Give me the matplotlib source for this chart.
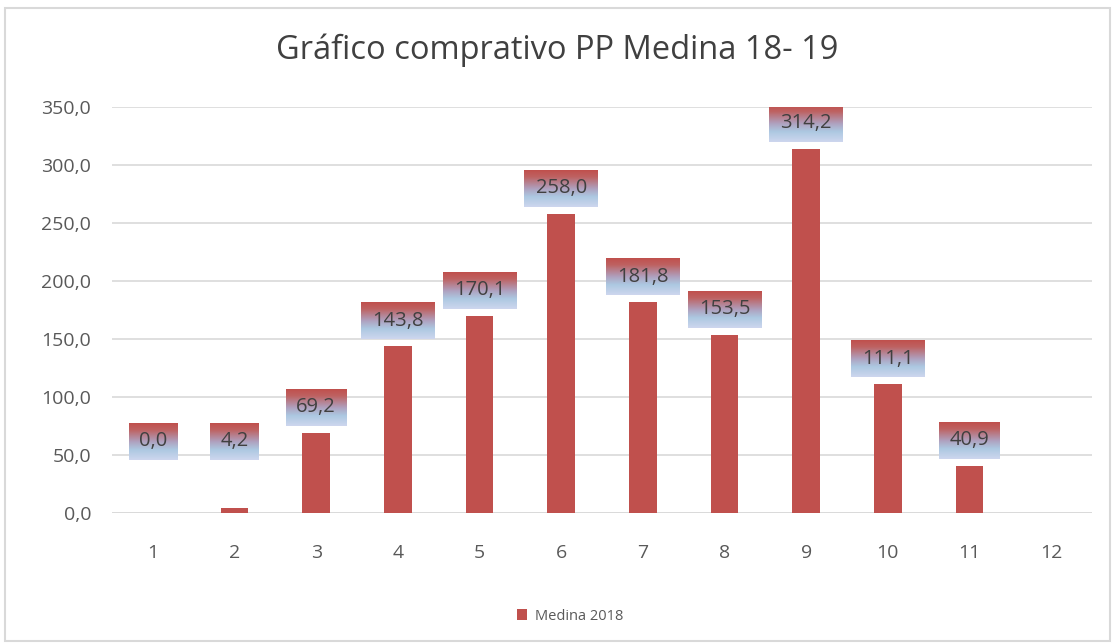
import matplotlib.pyplot as plt
import numpy as np
from matplotlib.patches import Rectangle
from matplotlib.colors import LinearSegmentedColormap

meses = [1, 2, 3, 4, 5, 6, 7, 8, 9, 10, 11, 12]
medina_2018 = [0.0, 4.2, 69.2, 143.8, 170.1, 258.0, 181.8, 153.5, 314.2, 111.1, 40.9, None]
yticks = [0, 50, 100, 150, 200, 250, 300, 350]

plt.rcParams['font.family'] = ['Open Sans', 'DejaVu Sans']

fig = plt.figure(figsize=(11.15, 6.44), dpi=100)
ax = fig.add_axes([112 / 1115, 1 - 513 / 644, (1092 - 112) / 1115, (513 - 107) / 644])

# borde del gráfico
fig.patches.append(Rectangle((5 / 1115, 3 / 644), 1105 / 1115, 633 / 644,
                             transform=fig.transFigure, fill=False,
                             edgecolor='#D9D9D9', lw=1.5))

x = [m for m, v in zip(meses, medina_2018) if v is not None]
y = [v for v in medina_2018 if v is not None]

ax.bar(x, y, width=0.34, color='#C0504D', zorder=3, label='Medina 2018')

ax.set_xlim(0.5, 12.5)
ax.set_ylim(0, 350)
ax.set_xticks(meses)
ax.set_yticks(yticks)
ax.set_yticklabels([f'{t:.1f}'.replace('.', ',') for t in yticks])
ax.tick_params(length=0, labelsize=14, labelcolor='#595959')
ax.tick_params(axis='y', pad=15)
ax.tick_params(axis='x', pad=22)
ax.yaxis.grid(True, color='#D9D9D9', lw=1.2, zorder=0)
for s in ax.spines.values():
    s.set_visible(False)
ax.axhline(0, color='#D9D9D9', lw=1.2, zorder=1)

# etiquetas con degradado
grad = LinearSegmentedColormap.from_list('g', [
    (0.0, (192 / 255, 80 / 255, 77 / 255)),
    (0.18, (190 / 255, 98 / 255, 98 / 255)),
    (0.5, (175 / 255, 160 / 255, 190 / 255)),
    (0.72, (172 / 255, 200 / 255, 225 / 255)),
    (1.0, (205 / 255, 214 / 255, 238 / 255)),
])
img = np.linspace(0, 1, 64).reshape(-1, 1)
px_x = 1 / 81.7
px_y = 350 / 406
for xi, v in zip(x, y):
    txt = f'{v:.1f}'.replace('.', ',')
    w = (12.5 * len(txt) + 11) * px_x
    h = 37 * px_y
    base = max(v, 40) + 7 * px_y
    ax.imshow(img, cmap=grad, aspect='auto', origin='upper',
              extent=(xi - w / 2, xi + w / 2, base, base + h), zorder=4)
    ax.text(xi, base + h / 2, txt, ha='center', va='center',
            fontsize=14.5, color='#404040', zorder=5)
ax.set_xlim(0.5, 12.5)
ax.set_ylim(0, 350)

fig.suptitle('Gráfico comprativo PP Medina 18- 19', y=1 - 50 / 644, va='center',
             fontsize=23.5, color='#404040')

fig.legend(loc='center', bbox_to_anchor=(570 / 1115, 1 - 616 / 644), frameon=False,
           fontsize=10.5, labelcolor='#595959', handlelength=0.7, handleheight=0.7,
           handletextpad=0.5)

fig.savefig('out.png', dpi=100)
